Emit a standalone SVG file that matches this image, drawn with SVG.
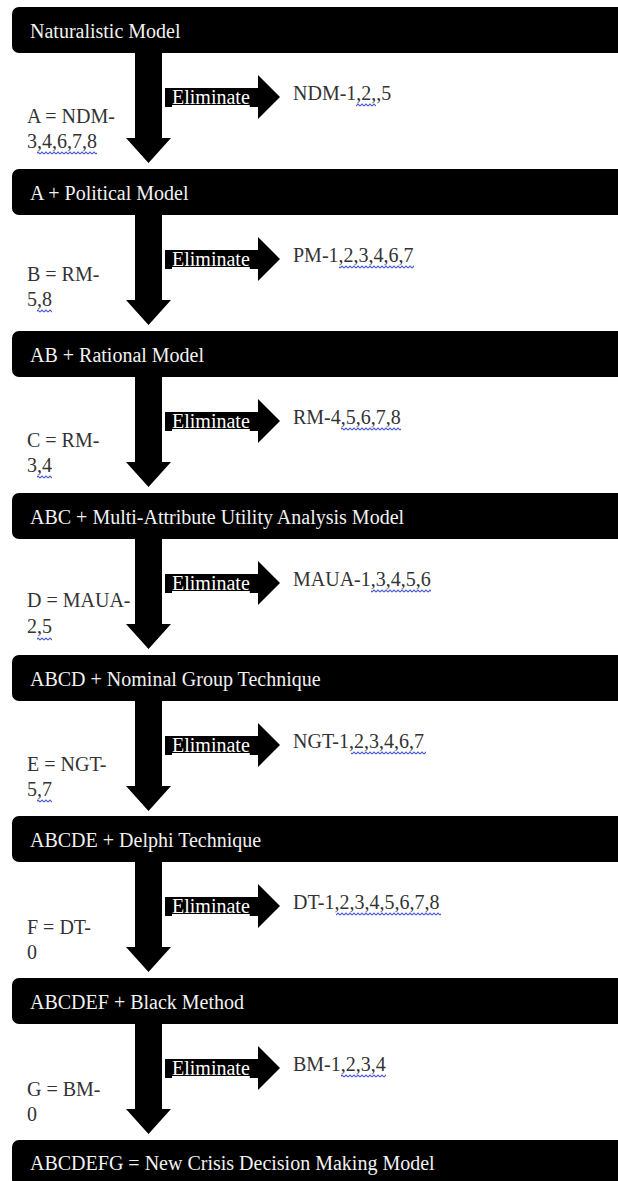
<svg xmlns="http://www.w3.org/2000/svg" width="618" height="1181" viewBox="0 0 618 1181">
<defs>
<style>
text{font-family:'Liberation Serif','Times New Roman','DejaVu Serif',serif;font-size:20px}
.bar{fill:#000}
.bt{fill:#f2f2f2}
.lb{fill:#333}
.el{fill:#fff;text-decoration:underline}
.arr{fill:#000}
.sq{fill:url(#sq)}
</style>
<pattern id="sq" width="4" height="4" patternUnits="userSpaceOnUse">
<polyline points="0,3 2,1 4,3" fill="none" stroke="#4d5bd0" stroke-width="1.1"/>
</pattern>
</defs>
<rect width="618" height="1181" fill="#fff"/>
<g font-family="Liberation Serif, DejaVu Serif, serif" font-size="20">
<g id="node-1" transform="translate(0,7)"><rect class="bar" x="12" y="0" width="620" height="46" rx="7"/><text class="bt" x="30" y="31">Naturalistic Model</text></g>
<g id="node-2" transform="translate(0,169)"><rect class="bar" x="12" y="0" width="620" height="46" rx="7"/><text class="bt" x="30" y="31">A + Political Model</text></g>
<g id="node-3" transform="translate(0,331)"><rect class="bar" x="12" y="0" width="620" height="46" rx="7"/><text class="bt" x="30" y="31">AB + Rational Model</text></g>
<g id="node-4" transform="translate(0,493)"><rect class="bar" x="12" y="0" width="620" height="46" rx="7"/><text class="bt" x="30" y="31">ABC + Multi-Attribute Utility Analysis Model</text></g>
<g id="node-5" transform="translate(0,655)"><rect class="bar" x="12" y="0" width="620" height="46" rx="7"/><text class="bt" x="30" y="31">ABCD + Nominal Group Technique</text></g>
<g id="node-6" transform="translate(0,816)"><rect class="bar" x="12" y="0" width="620" height="46" rx="7"/><text class="bt" x="30" y="31">ABCDE + Delphi Technique</text></g>
<g id="node-7" transform="translate(0,978)"><rect class="bar" x="12" y="0" width="620" height="46" rx="7"/><text class="bt" x="30" y="31">ABCDEF + Black Method</text></g>
<g id="node-8" transform="translate(0,1140)"><rect class="bar" x="12" y="0" width="620" height="46" rx="7"/><text class="bt" x="30" y="30">ABCDEFG = New Crisis Decision Making Model</text></g>

<g id="connectors">
<g transform="translate(0,7)"><path class="arr" d="M135,46 H162 V131 H171 L148.5,156 L126,131 H135 Z"/><path class="arr" d="M165,81 H258 V68 L280,90 L258,112 V100 H165 Z"/><text class="el" x="172" y="97">Eliminate</text></g>
<g transform="translate(0,169)"><path class="arr" d="M135,46 H162 V131 H171 L148.5,156 L126,131 H135 Z"/><path class="arr" d="M165,81 H258 V68 L280,90 L258,112 V100 H165 Z"/><text class="el" x="172" y="97">Eliminate</text></g>
<g transform="translate(0,331)"><path class="arr" d="M135,46 H162 V131 H171 L148.5,156 L126,131 H135 Z"/><path class="arr" d="M165,81 H258 V68 L280,90 L258,112 V100 H165 Z"/><text class="el" x="172" y="97">Eliminate</text></g>
<g transform="translate(0,493)"><path class="arr" d="M135,46 H162 V131 H171 L148.5,156 L126,131 H135 Z"/><path class="arr" d="M165,81 H258 V68 L280,90 L258,112 V100 H165 Z"/><text class="el" x="172" y="97">Eliminate</text></g>
<g transform="translate(0,655)"><path class="arr" d="M135,46 H162 V131 H171 L148.5,156 L126,131 H135 Z"/><path class="arr" d="M165,81 H258 V68 L280,90 L258,112 V100 H165 Z"/><text class="el" x="172" y="97">Eliminate</text></g>
<g transform="translate(0,816)"><path class="arr" d="M135,46 H162 V131 H171 L148.5,156 L126,131 H135 Z"/><path class="arr" d="M165,81 H258 V68 L280,90 L258,112 V100 H165 Z"/><text class="el" x="172" y="97">Eliminate</text></g>
<g transform="translate(0,978)"><path class="arr" d="M135,46 H162 V131 H171 L148.5,156 L126,131 H135 Z"/><path class="arr" d="M165,81 H258 V68 L280,90 L258,112 V100 H165 Z"/><text class="el" x="172" y="97">Eliminate</text></g>
</g>

<g id="kept-1" transform="translate(0,7)"><text class="lb" x="27" y="116">A = NDM-</text><text class="lb" x="27" y="141">3,4,6,7,8</text><rect class="sq" x="37" y="144" width="60" height="4"/></g>
<g id="kept-2" transform="translate(0,169)"><text class="lb" x="27" y="112">B = RM-</text><text class="lb" x="27" y="137">5,8</text><rect class="sq" x="37" y="140" width="15" height="4"/></g>
<g id="kept-3" transform="translate(0,331)"><text class="lb" x="27" y="116">C = RM-</text><text class="lb" x="27" y="141">3,4</text><rect class="sq" x="37" y="144" width="15" height="4"/></g>
<g id="kept-4" transform="translate(0,493)"><text class="lb" x="27" y="114">D = MAUA-</text><text class="lb" x="27" y="140">2,5</text><rect class="sq" x="37" y="144" width="15" height="4"/></g>
<g id="kept-5" transform="translate(0,655)"><text class="lb" x="27" y="116">E = NGT-</text><text class="lb" x="27" y="141">5,7</text><rect class="sq" x="37" y="144" width="15" height="4"/></g>
<g id="kept-6" transform="translate(0,816)"><text class="lb" x="27" y="118">F = DT-</text><text class="lb" x="27" y="143">0</text></g>
<g id="kept-7" transform="translate(0,978)"><text class="lb" x="27" y="118">G = BM-</text><text class="lb" x="27" y="143">0</text></g>

<g id="eliminated-1" transform="translate(0,7)"><text class="lb" x="293" y="93">NDM-1,2,,5</text><rect class="sq" x="356" y="96" width="20" height="4"/></g>
<g id="eliminated-2" transform="translate(0,169)"><text class="lb" x="293" y="93">PM-1,2,3,4,6,7</text><rect class="sq" x="339" y="96" width="75" height="4"/></g>
<g id="eliminated-3" transform="translate(0,331)"><text class="lb" x="293" y="93">RM-4,5,6,7,8</text><rect class="sq" x="341" y="96" width="60" height="4"/></g>
<g id="eliminated-4" transform="translate(0,493)"><text class="lb" x="293" y="93">MAUA-1,3,4,5,6</text><rect class="sq" x="371" y="96" width="60" height="4"/></g>
<g id="eliminated-5" transform="translate(0,655)"><text class="lb" x="293" y="93">NGT-1,2,3,4,6,7</text><rect class="sq" x="351" y="96" width="75" height="4"/></g>
<g id="eliminated-6" transform="translate(0,816)"><text class="lb" x="293" y="93">DT-1,2,3,4,5,6,7,8</text><rect class="sq" x="336" y="96" width="105" height="4"/></g>
<g id="eliminated-7" transform="translate(0,978)"><text class="lb" x="293" y="93">BM-1,2,3,4</text><rect class="sq" x="341" y="96" width="45" height="4"/></g>
</g>
</svg>
